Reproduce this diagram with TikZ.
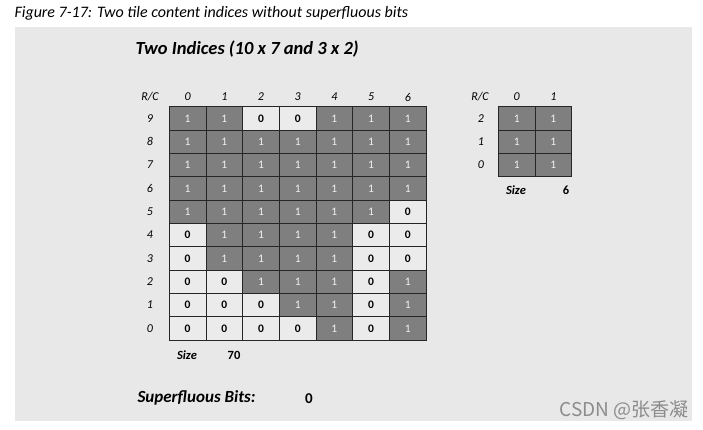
\documentclass[tikz,border=0pt]{standalone}
\usepackage{fontspec}
\setmainfont{Carlito}
\newfontfamily\cjkfont{Noto Sans CJK SC}
\definecolor{panelgrey}{HTML}{E8E8E8}
\definecolor{cellgrey}{HTML}{7F7F7F}
\definecolor{cellwhite}{HTML}{EBEBEB}

\begin{document}
\begin{tikzpicture}[x=1pt,y=-1pt,
	cell/.style={draw=black!85,line width=0.9pt,minimum width=36.7pt,
		minimum height=23.33pt,inner sep=0pt,font=\fontsize{11.5}{13}\selectfont},
	bit0/.style={fill=cellwhite,text=black,font=\fontsize{11.5}{13}\selectfont\bfseries},
	bit1/.style={fill=cellgrey,text=white!95!black},
	head/.style={font=\fontsize{12}{14}\selectfont\itshape},
	size label/.style={font=\fontsize{12.5}{14}\selectfont\bfseries\itshape},
	size value/.style={font=\fontsize{12.5}{14}\selectfont\bfseries}]
	
	\useasboundingbox (0,0) rectangle (703,430);
	\fill[panelgrey] (15,27) rectangle (692,421);
	
	\node[anchor=west,font=\fontsize{16}{18}\selectfont\itshape] (caption) at (11,13)
		{Figure 7-17: Two tile content indices without superfluous bits};
	\node[anchor=west,font=\fontsize{18.5}{20}\selectfont\bfseries\itshape] (title) at (132,49)
		{Two Indices (10 x 7 and 3 x 2)};
	
	% big index, rows 9 down to 0
	\node[head] (L-rc) at (150,97) {R/C};
	\foreach \c in {0,...,6}
		\node[head] (L-col-\c) at (187.6+36.7*\c,97) {\c};
	\foreach \row [count=\i from 0] in {{1,1,0,0,1,1,1},{1,1,1,1,1,1,1},
		{1,1,1,1,1,1,1},{1,1,1,1,1,1,1},{1,1,1,1,1,1,0},{0,1,1,1,1,0,0},
		{0,1,1,1,1,0,0},{0,0,1,1,1,0,1},{0,0,0,1,1,0,1},{0,0,0,0,1,0,1}} {
		\pgfmathtruncatemacro{\r}{9-\i}
		\node[head] (L-row-\r) at (150,118.4+23.33*\i) {\r};
		\foreach \b [count=\c from 0] in \row
			\node[cell,bit\b] (L-\r-\c) at (187.6+36.7*\c,118.4+23.33*\i) {\b};
	}
	\node[size label] (L-size) at (187,355) {Size};
	\node[size value] (L-size-val) at (234,355) {70};
	
	% small index, rows 2 down to 0
	\node[head] (S-rc) at (480,97) {R/C};
	\foreach \c in {0,1}
		\node[head] (S-col-\c) at (516.7+36.7*\c,97) {\c};
	\foreach \r [count=\i from 0] in {2,1,0} {
		\node[head] (S-row-\r) at (481,118.4+23.33*\i) {\r};
		\foreach \c in {0,1}
			\node[cell,bit1] (S-\r-\c) at (516.7+36.7*\c,118.4+23.33*\i) {1};
	}
	\node[size label] (S-size) at (516,190) {Size};
	\node[size value] (S-size-val) at (566,190) {6};
	
	\node[anchor=west,font=\fontsize{17}{19}\selectfont\bfseries\itshape] (superfluous) at (134,398)
		{Superfluous Bits:};
	\node[size value,font=\fontsize{15}{17}\selectfont\bfseries] (superfluous-val) at (309,399) {0};
	
	\node[anchor=east,text=black!45,font=\fontsize{19}{21}\selectfont\cjkfont] (mark) at (692,410)
		{CSDN @张香凝};
\end{tikzpicture}
\end{document}
